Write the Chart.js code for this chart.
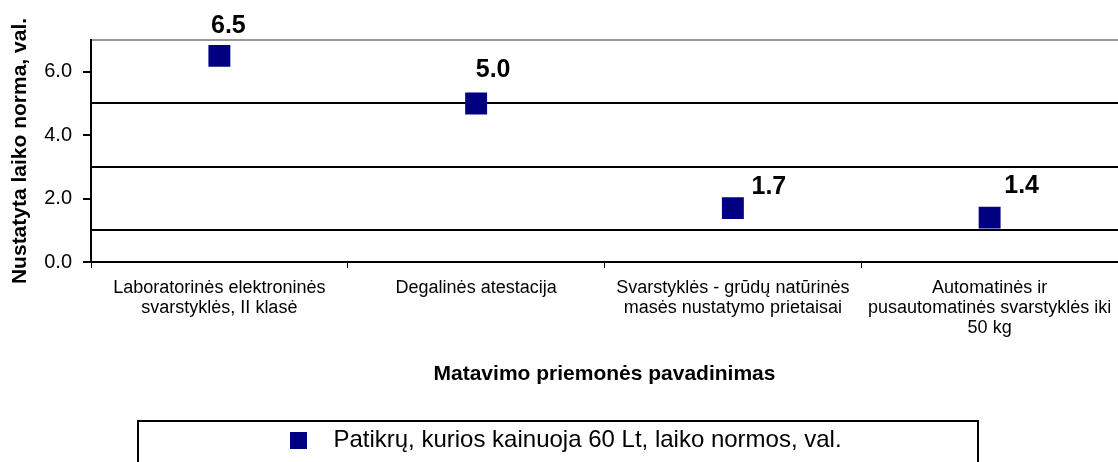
<!DOCTYPE html>
<html>
<head>
<meta charset="utf-8">
<script src="https://cdn.jsdelivr.net/npm/chart.js"></script>
<style>
  html, body { margin: 0; padding: 0; background: #fff; }
</style>
</head>
<body>
<canvas id="chart" width="1118" height="462"></canvas>
<script>
// data
const categories = [
    ['Laboratorinės elektroninės', 'svarstyklės, II klasė'],
    ['Degalinės atestacija'],
    ['Svarstyklės - grūdų natūrinės', 'masės nustatymo prietaisai'],
    ['Automatinės ir', 'pusautomatinės svarstyklės iki', '50 kg']
];
const normHours = [6.5, 5.0, 1.7, 1.4];
const seriesName = 'Patikrų, kurios kainuoja 60 Lt, laiko normos, val.';
const yTicks = [0, 2, 4, 6];      // labelled ticks
const yGridLines = [1, 3, 5];     // black horizontal lines
const yMax = 7;

const FONT = "'Liberation Sans', Arial, sans-serif";
const NAVY = '#000080';

// small square for the legend (so the gap to the text can be wider)
const legendMark = document.createElement('canvas');
legendMark.width = 17;
legendMark.height = 17;
const lm = legendMark.getContext('2d');
lm.fillStyle = NAVY;
lm.fillRect(0, 0, 17, 17);

// value labels sit above-right of each marker, moved by hand like in the original
const labelOffsets = [[9, -30], [17, -33], [36, -21], [32, -31]];

const valueLabels = {
    id: 'valueLabels',
    afterDatasetsDraw(chart) {
        const ctx = chart.ctx;
        const meta = chart.getDatasetMeta(0);
        ctx.save();
        ctx.font = 'bold 25px ' + FONT;
        ctx.fillStyle = '#000';
        ctx.textAlign = 'center';
        ctx.textBaseline = 'middle';
        meta.data.forEach((pt, i) => {
            const off = labelOffsets[i];
            ctx.fillText(normHours[i].toFixed(1), pt.x + off[0], pt.y + off[1]);
        });
        ctx.restore();
    }
};

const legendFrame = {
    id: 'legendFrame',
    afterDraw(chart) {
        const ctx = chart.ctx;
        ctx.save();
        ctx.strokeStyle = '#000';
        ctx.lineWidth = 2;
        ctx.strokeRect(138, 421, 840, 60);
        ctx.restore();
    }
};

new Chart(document.getElementById('chart'), {
    type: 'line',
    data: {
        labels: categories,
        datasets: [{
            label: seriesName,
            data: normHours,
            showLine: false,
            pointStyle: 'rect',
            pointRadius: 15.5,
            pointHoverRadius: 15.5,
            pointBorderWidth: 0,
            backgroundColor: NAVY,
            borderColor: NAVY
        }]
    },
    options: {
        responsive: false,
        animation: false,
        layout: { autoPadding: false, padding: { top: 40, right: 0, left: 0, bottom: 0 } },
        plugins: {
            tooltip: { enabled: false },
            legend: {
                position: 'bottom',
                labels: {
                    usePointStyle: true,
                    pointStyle: legendMark,
                    pointStyleWidth: 45,
                    padding: 10,
                    color: '#000',
                    font: { family: FONT, size: 24 }
                }
            }
        },
        scales: {
            x: {
                offset: true,
                grid: {
                    offset: true,
                    drawOnChartArea: false,
                    tickLength: 6,
                    tickColor: '#000',
                    tickWidth: 1
                },
                border: { color: '#000', width: 2 },
                ticks: {
                    color: '#000',
                    padding: 10,
                    maxRotation: 0,
                    autoSkip: false,
                    font: { family: FONT, size: 18, lineHeight: '20px' }
                },
                title: {
                    display: true,
                    text: 'Matavimo priemonės pavadinimas',
                    color: '#000',
                    padding: { top: 0, bottom: 31 },
                    font: { family: FONT, size: 21, weight: 'bold' }
                },
                afterFit(scale) {
                    scale.height = 156;
                    scale.paddingLeft = 0;
                    scale.paddingRight = 0;
                }
            },
            y: {
                min: 0,
                max: yMax,
                ticks: {
                    stepSize: 1,
                    color: '#000',
                    padding: 11,
                    font: { family: FONT, size: 20 },
                    callback: (v) => yTicks.includes(v) ? v.toFixed(1) : ''
                },
                grid: {
                    lineWidth: 2,
                    tickLength: 8,
                    tickWidth: 2,
                    color: (c) => {
                        const v = c.tick.value;
                        if (v === yMax) return '#999';
                        return yGridLines.includes(v) ? '#000' : 'rgba(0,0,0,0)';
                    },
                    tickColor: (c) => yTicks.includes(c.tick.value) ? '#000' : 'rgba(0,0,0,0)'
                },
                border: { color: '#000', width: 2 },
                title: {
                    display: true,
                    text: 'Nustatyta laiko norma, val.',
                    color: '#000',
                    padding: { top: 8, bottom: 0 },
                    font: { family: FONT, size: 21, weight: 'bold' }
                },
                afterFit(scale) { scale.width = 91; }
            }
        }
    },
    plugins: [valueLabels, legendFrame]
});
</script>
</body>
</html>
